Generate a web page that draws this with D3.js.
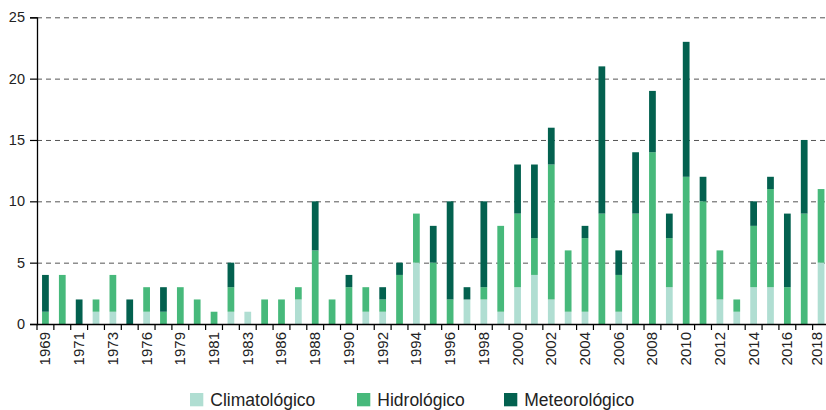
<!DOCTYPE html>
<html><head><meta charset="utf-8">
<script src="https://cdn.jsdelivr.net/npm/d3@7"></script>
<style>body{margin:0;background:#fff;} svg{display:block;font-family:"Liberation Sans",Arial,sans-serif;}</style>
</head><body>
<svg id="c" width="826" height="410"></svg>
<script>
const years = ["1969","1970","1971","1972","1973","1974","1976","1978","1979","1980","1981","1982","1983","1985",
"1986","1987","1988","1989","1990","1991","1992","1993","1994","1995","1996","1997","1998","1999","2000","2001",
"2002","2003","2004","2005","2006","2007","2008","2009","2010","2011","2012","2013","2014","2015","2016","2017","2018"];
const climatologico = [0,0,0,1,1,0,1,0,0,0,0,1,1,0, 0,2,0,0,0,1,1,0,5,0,0,2,2,1,3,4, 2,1,1,0,1,0,0,3,0,0,2,1,3,3,0,0,5];
const hidrologico   = [1,4,0,1,3,0,2,1,3,2,1,2,0,2, 2,1,6,2,3,2,1,4,4,5,2,0,1,7,6,3, 11,5,6,9,3,9,14,4,12,10,4,1,5,8,3,9,6];
const meteorologico = [3,0,2,0,0,2,0,2,0,0,0,2,0,0, 0,0,4,0,1,0,1,1,0,3,8,1,7,0,4,6, 3,0,1,12,2,5,5,2,11,2,0,0,2,1,6,6,0];
const tickLabels = ["1969","1971","1973","1976","1979","1981","1983","1986","1988","1990","1992","1994","1996","1998",
"2000","2002","2004","2006","2008","2010","2012","2014","2016","2018"];
const seriesNames = ["Climatológico","Hidrológico","Meteorológico"];
const colors = ["#b0ded2","#47b97b","#03614f"];
const yTicks = [0,5,10,15,20,25];

(function(){
const svg = d3.select("#c");
const mLeft = 37, mRight = 829.5, mTop = 17.3, mBottom = 324;
const x = d3.scaleBand().domain(years).range([mLeft, mRight]).paddingInner(0.6).paddingOuter(0.3);
const y = d3.scaleLinear().domain([0,25]).range([mBottom, mTop]);

const rows = years.map((yr,i)=>({year:yr, c:climatologico[i], h:hidrologico[i], m:meteorologico[i]}));
const stack = d3.stack().keys(["c","h","m"])(rows);

// gridlines
svg.append("g").selectAll("line").data(yTicks.filter(d=>d>0)).join("line")
  .attr("x1", mLeft).attr("x2", 826).attr("y1", d=>y(d)+0.5).attr("y2", d=>y(d)+0.5)
  .attr("stroke","#555").attr("stroke-width",1).attr("stroke-dasharray","5,4");

// bars
svg.append("g").selectAll("g").data(stack).join("g").attr("fill",(d,i)=>colors[i])
  .selectAll("rect").data(d=>d).join("rect")
  .attr("x", d=>x(d.data.year)).attr("width", x.bandwidth())
  .attr("y", d=>y(d[1])).attr("height", d=>y(d[0])-y(d[1]));

// y axis
const ya = svg.append("g").attr("transform",`translate(${mLeft},0)`)
  .call(d3.axisLeft(y).tickValues(yTicks).tickSize(7).tickPadding(5));
ya.select(".domain").attr("stroke","#000").attr("stroke-width",1.3);
ya.selectAll(".tick line").attr("stroke","#000").attr("stroke-width",1.2);
ya.selectAll("text").attr("font-size",14.5).attr("fill","#222").attr("font-family","Liberation Sans, Arial, sans-serif");

// x axis: boundary ticks
const step = x.step();
const xg = svg.append("g");
xg.append("line").attr("x1",mLeft).attr("x2",826).attr("y1",mBottom+0.5).attr("y2",mBottom+0.5).attr("stroke","#000").attr("stroke-width",1.3);
xg.selectAll("line.t").data(years).join("line").attr("class","t")
  .attr("x1",d=>x(d)+x.bandwidth()/2-step/2).attr("x2",d=>x(d)+x.bandwidth()/2-step/2)
  .attr("y1",mBottom).attr("y2",mBottom+6).attr("stroke","#000").attr("stroke-width",1.2);
xg.selectAll("text").data(tickLabels).join("text")
  .attr("transform", d=>`translate(${Math.min(x(d)+x.bandwidth()/2+5, 822)},${mBottom+8}) rotate(-90)`)
  .attr("text-anchor","end").attr("font-size",15).attr("fill","#222").text(d=>d);

// legend
const legX = [190, 357, 504];
const lg = svg.append("g");
seriesNames.forEach((n,i)=>{
  lg.append("rect").attr("x",legX[i]).attr("y",393).attr("width",13.3).attr("height",13.3).attr("fill",colors[i]);
  lg.append("text").attr("x",legX[i]+20.3).attr("y",406).attr("font-size",17.5).attr("fill","#222").text(n);
});
})();
</script>
</body></html>
